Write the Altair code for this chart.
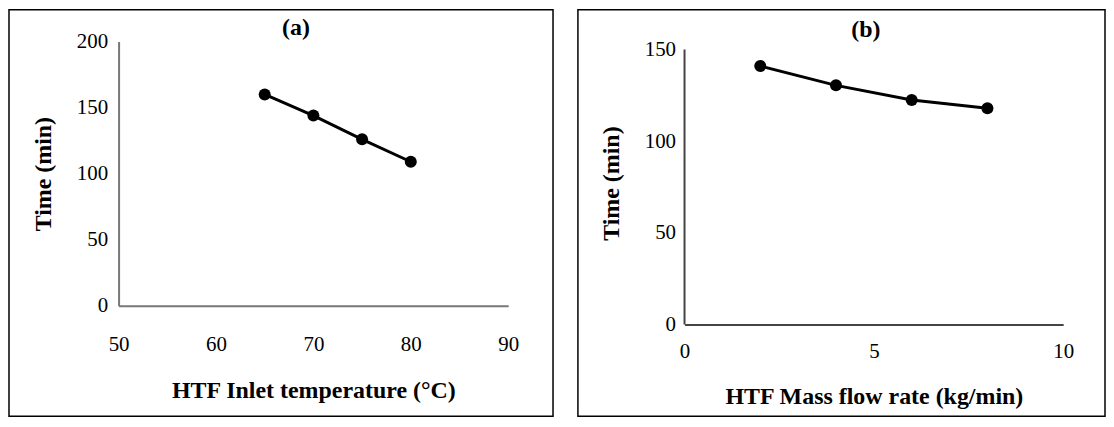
import altair as alt
import pandas as pd

# ---- data ----
temp_c = [65, 70, 75, 80]
time_a = [160, 144, 126, 109]
flow_kg = [2, 4, 6, 8]
time_b = [141, 130.5, 122.5, 118]

xa_ticks = [50, 60, 70, 80, 90]
ya_ticks = [0, 50, 100, 150, 200]
xb_ticks = [0, 5, 10]
yb_ticks = [0, 50, 100, 150]

FONT = "Liberation Serif"


def panel(xs, ys, xdom, ydom, xticks, yticks, xtitle, label, w, h, box,
          title_xy, dom_color, xlab_pad, xtitle_pad, ylab_pad, ytitle_pad,
          y_rule=False):
    df = pd.DataFrame({"x": xs, "y": ys})
    one = pd.DataFrame({"k": [0]})
    xenc = alt.X(
        "x:Q",
        scale=alt.Scale(domain=xdom, nice=False, zero=False),
        axis=alt.Axis(values=xticks, title=xtitle, labelPadding=xlab_pad,
                      titlePadding=xtitle_pad, domainColor=dom_color,
                      format="d", labelFlush=False),
    )
    yenc = alt.Y(
        "y:Q",
        scale=alt.Scale(domain=ydom, nice=False),
        axis=alt.Axis(values=yticks, title="Time (min)", labelPadding=ylab_pad,
                      titlePadding=ytitle_pad, domainColor=dom_color,
                      domain=not y_rule, format="d"),
    )
    border = alt.Chart(one).mark_rect(
        fill="transparent", stroke="black", strokeWidth=1.5
    ).encode(x=alt.value(box[0]), x2=alt.value(box[1]),
             y=alt.value(box[2]), y2=alt.value(box[3]))
    line = alt.Chart(df).mark_line(color="black", strokeWidth=3).encode(xenc, yenc)
    pts = alt.Chart(df).mark_point(filled=True, color="black", size=145,
                                   opacity=1).encode(xenc, yenc)
    ttl = alt.Chart(one).mark_text(
        font=FONT, fontSize=24, fontWeight="bold", baseline="middle",
        align="center", color="black"
    ).encode(x=alt.value(title_xy[0]), y=alt.value(title_xy[1]),
             text=alt.value(label))
    layers = [border]
    if y_rule:
        axis_df = pd.DataFrame({"y": [min(yticks)], "y2": [max(yticks)]})
        layers.append(
            alt.Chart(axis_df).mark_rule(color=dom_color, strokeWidth=2)
            .encode(x=alt.value(0), y=yenc, y2="y2:Q")
        )
    layers += [line, pts, ttl]
    return alt.layer(*layers).properties(width=w, height=h)


pa = panel(temp_c, time_a, [50, 90], [0, 200], xa_ticks, ya_ticks,
           "HTF Inlet temperature (°C)", "(a)", 391, 265,
           (-110, 436, -32, 376), (178, -14), "#777777", 28, 24, 11, 21)
# panel (b): plot area starts a little higher than its 150 tick, as in the reference
pb = panel(flow_kg, time_b, [0, 10], [0, 150 * 284 / 276], xb_ticks, yb_ticks,
           "HTF Mass flow rate (kg/min)", "(b)", 380, 284,
           (-107, 422, -32, 376), (182, -12), "#444444", 16, 23, 9, 21,
           y_rule=True)

chart = alt.concat(pa, pb, columns=2, spacing=23).properties(
    padding=0, background="white"
).configure_view(stroke=None).configure_axis(
    grid=False, ticks=False, labelFont=FONT, labelFontSize=21,
    labelColor="black", titleFont=FONT, titleFontSize=24,
    titleFontWeight="bold", titleColor="black", domainWidth=2
)

chart.save("out.html", embed_options={"renderer": "svg", "actions": False})
